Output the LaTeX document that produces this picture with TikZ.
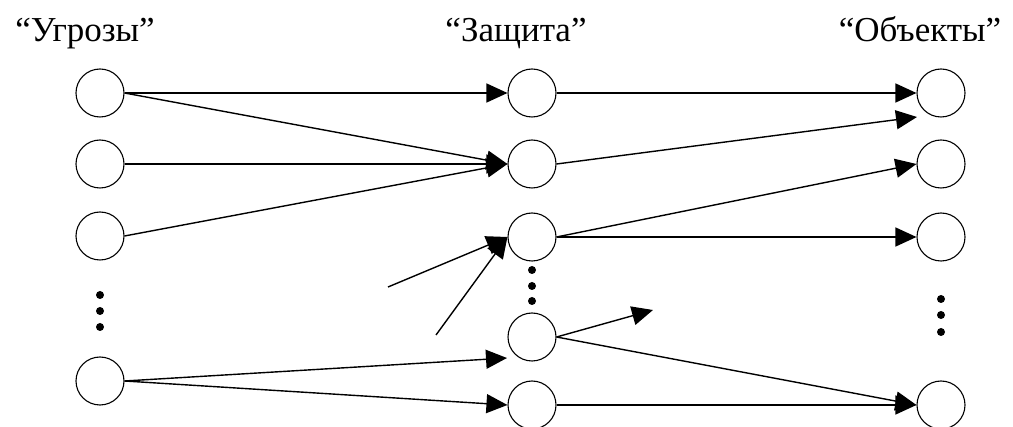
\documentclass[tikz,border=0pt]{standalone}
\usepackage{fontspec}
\setmainfont{Liberation Serif}
\usetikzlibrary{arrows.meta}
\begin{document}
\begin{tikzpicture}[x=1pt,y=-1pt,
  vert/.style={circle,draw,line width=1.1pt,minimum size=48pt,inner sep=0pt},
  conn/.style={line width=1.4pt,-{Triangle[length=21pt,width=19pt]}},
  hdr/.style={font=\fontsize{35}{38}\selectfont,anchor=base},
  vdot/.style={circle,fill,inner sep=0pt,minimum size=8pt}]
\useasboundingbox (0,0) rectangle (1013,427);

% column headers
\node[hdr] (hT) at (85,42) {“Угрозы”};
\node[hdr] (hD) at (516,42) {“Защита”};
\node[hdr] (hO) at (920,42) {“Объекты”};

% threats
\node[vert] (l1) at (100,93) {};
\node[vert] (l2) at (100,164) {};
\node[vert] (l3) at (100,236) {};
\node[vert] (l4) at (100,381) {};
\node[vdot] (ld1) at (100,295) {};
\node[vdot] (ld2) at (100,311) {};
\node[vdot] (ld3) at (100,327) {};

% protection
\node[vert] (m1) at (532,93) {};
\node[vert] (m2) at (532,164) {};
\node[vert] (m3) at (532,237) {};
\node[vert] (m4) at (532,337) {};
\node[vert] (m5) at (532,405) {};
\node[vdot] (md1) at (532,270) {};
\node[vdot] (md2) at (532,286) {};
\node[vdot] (md3) at (532,301) {};

% objects
\node[vert] (r1) at (941,93) {};
\node[vert] (r2) at (941,164) {};
\node[vert] (r3) at (941,237) {};
\node[vert] (r4) at (941,405) {};
\node[vdot] (rd1) at (941,299) {};
\node[vdot] (rd2) at (941,315) {};
\node[vdot] (rd3) at (941,332) {};

% loose ends
\coordinate (s1) at (388,287);
\coordinate (s2) at (436,335);
\coordinate (e1) at (917,117);
\coordinate (e2) at (653,310);
\coordinate (e3) at (507,358);

% threats -> protection
\draw[conn] (l1.east) -- (m1.west);
\draw[conn] (l1.east) -- (m2.west);
\draw[conn] (l2.east) -- (m2.west);
\draw[conn] (l3.east) -- (m2.west);
\draw[conn] (s1) -- (m3.west);
\draw[conn] (s2) -- (m3.west);
\draw[conn] (l4.east) -- (e3);
\draw[conn] (l4.east) -- (m5.west);

% protection -> objects
\draw[conn] (m1.east) -- (r1.west);
\draw[conn] (m2.east) -- (e1);
\draw[conn] (m3.east) -- (r2.west);
\draw[conn] (m3.east) -- (r3.west);
\draw[conn] (m4.east) -- (e2);
\draw[conn] (m4.east) -- (r4.west);
\draw[conn] (m5.east) -- (r4.west);
\end{tikzpicture}
\end{document}
